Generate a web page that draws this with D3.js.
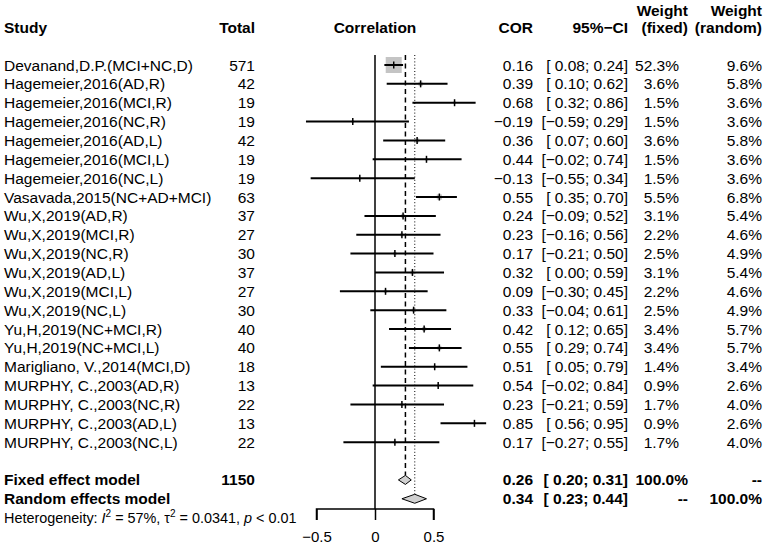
<!DOCTYPE html>
<html><head><meta charset="utf-8">
<script src="https://cdn.jsdelivr.net/npm/d3@7"></script>
<style>
body{margin:0;background:#fff;}
svg text{font-family:"Liberation Sans",Arial,sans-serif;white-space:pre;}
</style></head>
<body><svg id="c" width="768" height="546"></svg>
<script>
const studies = ["Devanand,D.P.(MCI+NC,D)","Hagemeier,2016(AD,R)","Hagemeier,2016(MCI,R)","Hagemeier,2016(NC,R)","Hagemeier,2016(AD,L)","Hagemeier,2016(MCI,L)","Hagemeier,2016(NC,L)","Vasavada,2015(NC+AD+MCI)","Wu,X,2019(AD,R)","Wu,X,2019(MCI,R)","Wu,X,2019(NC,R)","Wu,X,2019(AD,L)","Wu,X,2019(MCI,L)","Wu,X,2019(NC,L)","Yu,H,2019(NC+MCI,R)","Yu,H,2019(NC+MCI,L)","Marigliano, V.,2014(MCI,D)","MURPHY, C.,2003(AD,R)","MURPHY, C.,2003(NC,R)","MURPHY, C.,2003(AD,L)","MURPHY, C.,2003(NC,L)"];
const totals = [571,42,19,19,42,19,19,63,37,27,30,37,27,30,40,40,18,13,22,13,22];
const cor = [0.16,0.39,0.68,-0.19,0.36,0.44,-0.13,0.55,0.24,0.23,0.17,0.32,0.09,0.33,0.42,0.55,0.51,0.54,0.23,0.85,0.17];
const lower = [0.08,0.10,0.32,-0.59,0.07,-0.02,-0.55,0.35,-0.09,-0.16,-0.21,0.00,-0.30,-0.04,0.12,0.29,0.05,-0.02,-0.21,0.56,-0.27];
const upper = [0.24,0.62,0.86,0.29,0.60,0.74,0.34,0.70,0.52,0.56,0.50,0.59,0.45,0.61,0.65,0.74,0.79,0.84,0.59,0.95,0.55];
const wFixed = [52.3,3.6,1.5,1.5,3.6,1.5,1.5,5.5,3.1,2.2,2.5,3.1,2.2,2.5,3.4,3.4,1.4,0.9,1.7,0.9,1.7];
const wRandom = [9.6,5.8,3.6,3.6,5.8,3.6,3.6,6.8,5.4,4.6,4.9,5.4,4.6,4.9,5.7,5.7,3.4,2.6,4.0,2.6,4.0];
const fixedModel = {label:"Fixed effect model", total:1150, est:0.26, lo:0.20, hi:0.31, wf:"100.0%", wr:"--"};
const randomModel = {label:"Random effects model", total:null, est:0.34, lo:0.23, hi:0.44, wf:"--", wr:"100.0%"};
const xTicks = [-0.5, 0, 0.5];

const svg = d3.select("#c");
const x = d3.scaleLinear().domain([-0.5,0.5]).range([316.5,433.5]);
const rowY = i => 65 + i*18.86;
const fs = 15.5;
const fmt = v => (v<0?"\u2212":"") + Math.abs(v).toFixed(2);
const ci = (l,h) => "[" + (l<0?"":" ") + fmt(l) + "; " + fmt(h) + "]";

function txt(xp, yp, s, anchor, bold, size){
  return svg.append("text").attr("x",xp).attr("y",yp).attr("text-anchor",anchor||"start")
    .attr("font-size",size||fs).attr("font-weight",bold?"bold":"normal").attr("fill","#000").text(s);
}

// headers
txt(4,33,"Study","start",true);
txt(255,33,"Total","end",true);
txt(375,33,"Correlation","middle",true);
txt(533,33,"COR","end",true);
txt(628,33,"95%\u2212CI","end",true);
txt(688,16,"Weight","end",true);
txt(688,33,"(fixed)","end",true);
txt(762,16,"Weight","end",true);
txt(762,33,"(random)","end",true);

// reference lines
const lineTop = 55;
svg.append("line").attr("x1",x(0)).attr("x2",x(0)).attr("y1",lineTop).attr("y2",509).attr("stroke","#000").attr("stroke-width",1.5);
svg.append("line").attr("x1",x(fixedModel.est)).attr("x2",x(fixedModel.est)).attr("y1",lineTop).attr("y2",rowY(22)-4.5)
  .attr("stroke","#000").attr("stroke-width",1.5).attr("stroke-dasharray","5,3.5");
svg.append("line").attr("x1",x(randomModel.est)).attr("x2",x(randomModel.est)).attr("y1",lineTop).attr("y2",rowY(23)-4.5)
  .attr("stroke","#000").attr("stroke-width",1).attr("stroke-dasharray","1,2.2");

// study rows
const maxW = d3.max(wFixed);
const side = w => 16*Math.sqrt(w/maxW);
studies.forEach((s,i)=>{
  const y = rowY(i);
  txt(4,y+5.5,s,"start");
  txt(255,y+5.5,String(totals[i]),"end");
  txt(533,y+5.5,fmt(cor[i]),"end");
  txt(628,y+5.5,ci(lower[i],upper[i]),"end");
  txt(679,y+5.5,wFixed[i].toFixed(1)+"%","end");
  txt(762,y+5.5,wRandom[i].toFixed(1)+"%","end");
  const sd = side(wFixed[i]);
  svg.append("rect").attr("x",x(cor[i])-sd/2).attr("y",y-sd/2).attr("width",sd).attr("height",sd).attr("fill","#c4c4c4");
  svg.append("line").attr("x1",x(lower[i])).attr("x2",x(upper[i])).attr("y1",y).attr("y2",y).attr("stroke","#000").attr("stroke-width",2);
  svg.append("line").attr("x1",x(cor[i])).attr("x2",x(cor[i])).attr("y1",y-3.5).attr("y2",y+3.5).attr("stroke","#000").attr("stroke-width",1.5);
});

// summary rows
[[fixedModel,22],[randomModel,23]].forEach(([m,r])=>{
  const y = rowY(r);
  txt(4,y+5.5,m.label,"start",true);
  if(m.total!==null) txt(255,y+5.5,String(m.total),"end",true);
  txt(533,y+5.5,fmt(m.est),"end",true);
  txt(628,y+5.5,ci(m.lo,m.hi),"end",true);
  txt(688,y+5.5,m.wf,"end",true);
  txt(762,y+5.5,m.wr,"end",true);
  const h = 4.5;
  svg.append("path").attr("d",`M${x(m.lo)},${y} L${x(m.est)},${y-h} L${x(m.hi)},${y} L${x(m.est)},${y+h} Z`)
    .attr("fill","#d0d0d0").attr("stroke","#000").attr("stroke-width",1);
});

// heterogeneity
const het = svg.append("text").attr("x",4).attr("y",522.5).attr("font-size",14.4).attr("fill","#000");
het.append("tspan").text("Heterogeneity: ");
het.append("tspan").attr("font-style","italic").text("I");
het.append("tspan").attr("font-size",10).attr("dy",-5.5).text("2");
het.append("tspan").attr("dy",5.5).text(" = 57%, \u03c4");
het.append("tspan").attr("font-size",10).attr("dy",-5.5).text("2");
het.append("tspan").attr("dy",5.5).text(" = 0.0341, ");
het.append("tspan").attr("font-style","italic").text("p");
het.append("tspan").text(" < 0.01");

// axis
const axis = d3.axisBottom(x).tickValues(xTicks).tickSize(11).tickPadding(11)
  .tickFormat(d => d===0 ? "0" : (d<0?"\u2212":"") + Math.abs(d));
const g = svg.append("g").attr("transform","translate(0,509)").call(axis);
g.select(".domain").attr("stroke","#000").attr("stroke-width",1.5).attr("d",`M${x(-0.5)},11V0H${x(0.5)}V11`);
g.selectAll(".tick line").attr("stroke","#000").attr("stroke-width",1.5);
g.selectAll(".tick text").attr("font-size",15).attr("font-family","Liberation Sans, Arial, sans-serif").attr("fill","#000");
</script></body></html>
